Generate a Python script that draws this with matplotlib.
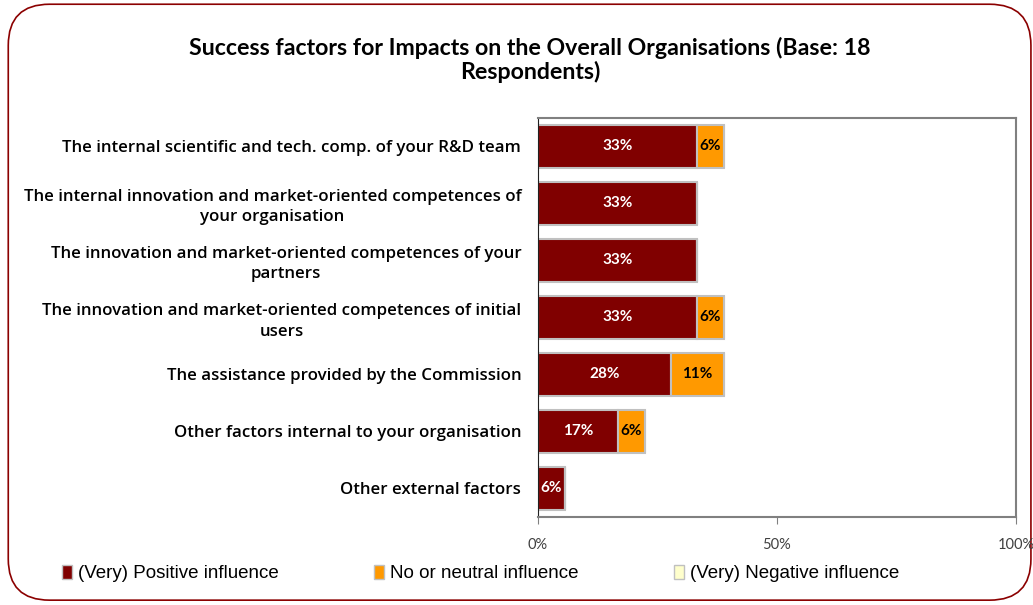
import numpy as np
import matplotlib.pyplot as plt
from matplotlib.patches import FancyBboxPatch, Patch

# data
categories = [
    'The internal scientific and tech. comp. of your R&D team',
    'The internal innovation and market-oriented competences of\nyour organisation',
    'The innovation and market-oriented competences of your\npartners',
    'The innovation and market-oriented competences of initial\nusers',
    'The assistance provided by the Commission',
    'Other factors internal to your organisation',
    'Other external factors',
]
positive = [33.3, 33.3, 33.3, 33.3, 27.8, 16.7, 5.6]
neutral = [5.6, 0, 0, 5.6, 11.1, 5.6, 0]
negative = [0, 0, 0, 0, 0, 0, 0]
series_names = ['(Very) Positive influence', 'No or neutral influence', '(Very) Negative influence']
colors = ['#800000', '#FF9900', '#FFFFCC']

fig = plt.figure(figsize=(10.33, 6.05), dpi=100)
border = FancyBboxPatch((0.008, 0.008), 0.99, 0.985, boxstyle='round,pad=0,rounding_size=0.04',
                        transform=fig.transFigure, facecolor='none', edgecolor='#8B0000',
                        linewidth=1.2, mutation_aspect=1.7, zorder=-1)
fig.patches.append(border)

ax = fig.add_axes([0.5208, 0.1455, 0.4627, 0.66])
y = np.arange(len(categories))
left = np.zeros(len(categories))
for vals, col in zip([positive, neutral, negative], colors):
    vals = np.array(vals)
    bars = ax.barh(y, vals, left=left, height=0.75, color=col, edgecolor='#C0C0C0', linewidth=1.5)
    for b, v in zip(bars, vals):
        if v > 0:
            tc = 'white' if col == '#800000' else 'black'
            ax.text(b.get_x() + b.get_width() / 2, b.get_y() + b.get_height() / 2,
                    f'{v:.0f}%', ha='center', va='center', color=tc,
                    fontsize=11, fontweight='bold', family='Lato')
    left += vals

ax.set_xlim(0, 100)
ax.set_ylim(len(categories) - 0.5, -0.5)
ax.set_xticks([0, 50, 100])
ax.set_xticklabels(['0%', '50%', '100%'], family='Lato', fontsize=10.5, color='#404040')
ax.tick_params(axis='x', length=5, color='#808080', pad=10)
ax.set_yticks(y)
ax.set_yticklabels(categories, family='Open Sans', fontsize=12.2, fontweight='semibold',
                   multialignment='center', linespacing=1.35)
ax.tick_params(axis='y', length=0, pad=12)
for s in ['top', 'right', 'bottom']:
    ax.spines[s].set_color('#808080')
    ax.spines[s].set_linewidth(1.5)
ax.spines['left'].set_color('#202020')

fig.text(0.513, 0.901, 'Success factors for Impacts on the Overall Organisations (Base: 18\nRespondents)',
         ha='center', va='center', fontsize=16.7, fontweight='bold', family='Lato', linespacing=1.1)

handles = [Patch(facecolor=c, edgecolor='#C0C0C0') for c in colors]
fig.legend(handles, series_names, loc='center', bbox_to_anchor=(0.465, 0.052), ncol=3, frameon=False,
           prop={'family': 'Liberation Sans', 'size': 13.5}, columnspacing=5.1, handlelength=0.55,
           handleheight=0.75, handletextpad=0.3)

fig.savefig('out.png', dpi=100)
